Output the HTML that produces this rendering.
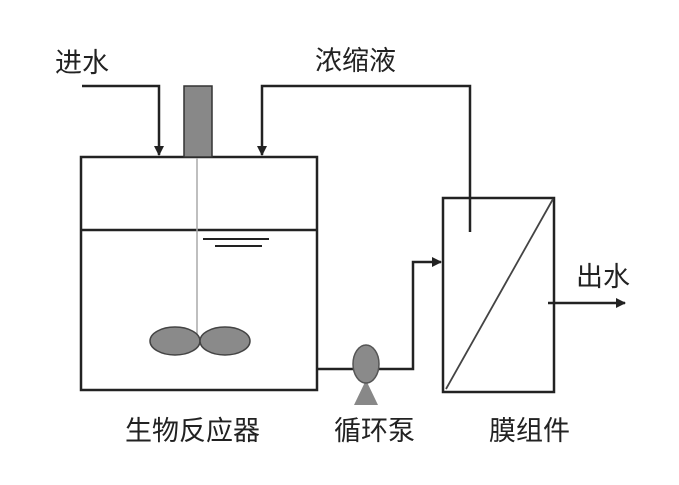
<!DOCTYPE html>
<html><head><meta charset="utf-8"><style>
html,body{margin:0;padding:0;background:#fff;}
svg{display:block;}
text{font-family:"Liberation Sans","Noto Sans CJK SC",sans-serif;fill:#222;font-size:27px;}
</style></head><body>
<svg width="679" height="485" viewBox="0 0 679 485" xmlns="http://www.w3.org/2000/svg">
<defs>
<marker id="a" markerWidth="10" markerHeight="10" refX="9" refY="5" orient="auto" markerUnits="userSpaceOnUse">
<path d="M0,0 L10,5 L0,10 Z" fill="#222"/></marker>
</defs>
<g stroke="#222" stroke-width="2.5" fill="none">
<!-- reactor -->
<rect x="81" y="157" width="236" height="233"/>
<line x1="81" y1="230" x2="317" y2="230"/>
<!-- inlet -->
<polyline points="82,86 159,86 159,155" marker-end="url(#a)"/>
<!-- concentrate -->
<polyline points="470,232 470,86 262,86 262,155" marker-end="url(#a)"/>
<!-- membrane -->
<rect x="443" y="198" width="111" height="194"/>
<!-- pump pipes -->
<polyline points="317,369 354,369"/>
<polyline points="378,369 413,369 413,262 441,262" marker-end="url(#a)"/>
<!-- outlet -->
<line x1="548" y1="303" x2="625" y2="303" marker-end="url(#a)"/>
<!-- water level -->
<line x1="203" y1="239" x2="269" y2="239" stroke-width="2"/>
<line x1="215" y1="246" x2="262" y2="246" stroke-width="2"/>
</g>
<line x1="446" y1="389" x2="553" y2="199" stroke="#444" stroke-width="1.8"/>
<line x1="197" y1="158" x2="197" y2="335" stroke="#aaa" stroke-width="1.5"/>
<rect x="184" y="86" width="28" height="71" fill="#888" stroke="#333" stroke-width="1.5"/>
<ellipse cx="175" cy="341" rx="25" ry="14" fill="#8a8a8a" stroke="#444" stroke-width="1.5"/>
<ellipse cx="225" cy="341" rx="25" ry="14" fill="#8a8a8a" stroke="#444" stroke-width="1.5"/>
<path d="M366,380 L354,405 L378,405 Z" fill="#888"/>
<ellipse cx="366" cy="364" rx="13" ry="19" fill="#8a8a8a" stroke="#555" stroke-width="1.5"/>
<text x="55" y="72">进水</text>
<text x="315" y="70">浓缩液</text>
<text x="576" y="286">出水</text>
<text x="125" y="440">生物反应器</text>
<text x="334" y="440">循环泵</text>
<text x="489" y="440">膜组件</text>
</svg>
</body></html>
